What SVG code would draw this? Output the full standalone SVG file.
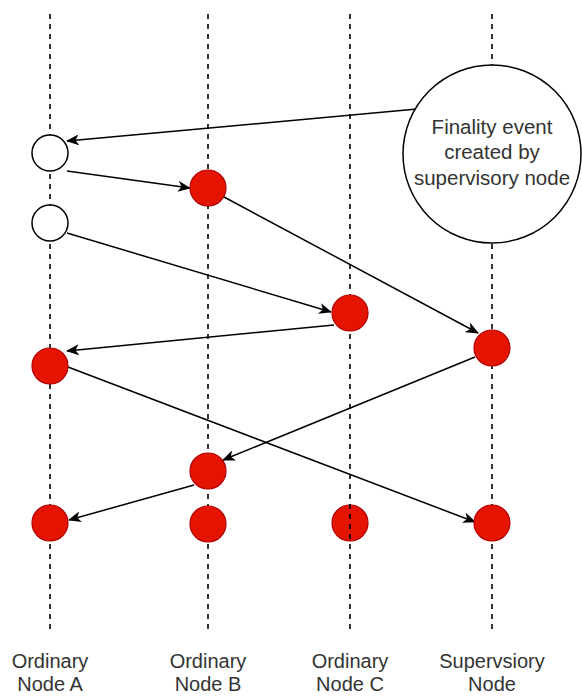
<svg xmlns="http://www.w3.org/2000/svg" width="582" height="697" viewBox="0 0 582 697">
  <style>
    .life { stroke: #000; stroke-width: 1.6; stroke-dasharray: 5 5; fill: none; }
    .edge { stroke: #000; stroke-width: 1.5; fill: none; marker-end: url(#arrow); }
    .evt { fill: #e51400; stroke: #b20000; stroke-width: 1.2; }
    .empty { fill: #fff; stroke: #000; stroke-width: 1.5; }
    .lbl { font-family: "Liberation Sans", Arial, sans-serif; font-size: 20px; fill: #333; text-anchor: middle; }
    .note { font-family: "Liberation Sans", Arial, sans-serif; font-size: 20.5px; fill: #333; text-anchor: middle; }
  </style>
  <defs>
    <marker id="arrow" viewBox="0 0 13 11" refX="12" refY="5.5" markerWidth="13" markerHeight="11" markerUnits="userSpaceOnUse" orient="auto">
      <path d="M0,0 L13,5.5 L0,11 L3.5,5.5 Z" fill="#000"/>
    </marker>
  </defs>

  <rect width="582" height="697" fill="#fff"/>

  <!-- lifelines -->
  <g id="lifelines">
    <line class="life" x1="50" y1="14" x2="50" y2="632"/>
    <line class="life" x1="208" y1="14" x2="208" y2="632"/>
    <line class="life" x1="350" y1="14" x2="350" y2="632"/>
    <line class="life" x1="492" y1="14" x2="492" y2="632"/>
  </g>

  <!-- messages -->
  <g id="connectors">
    <line class="edge" x1="417" y1="109" x2="67" y2="141"/>
    <line class="edge" x1="67" y1="171" x2="190" y2="188"/>
    <line class="edge" x1="224" y1="197" x2="478" y2="333"/>
    <line class="edge" x1="67" y1="233" x2="331" y2="312"/>
    <line class="edge" x1="334" y1="325" x2="67" y2="351"/>
    <line class="edge" x1="475" y1="357" x2="223" y2="460"/>
    <line class="edge" x1="68" y1="367" x2="475" y2="522"/>
    <line class="edge" x1="194" y1="485" x2="69" y2="520"/>
  </g>

  <!-- Node A -->
  <g id="node-a">
    <circle class="empty" cx="50" cy="153" r="18"/>
    <circle class="empty" cx="50" cy="223" r="18"/>
    <circle class="evt" cx="50" cy="366" r="18"/>
    <circle class="evt" cx="50" cy="523" r="18"/>
    <text class="lbl" x="50" y="668">Ordinary</text>
    <text class="lbl" x="50" y="691">Node A</text>
  </g>

  <!-- Node B -->
  <g id="node-b">
    <circle class="evt" cx="208" cy="188" r="18"/>
    <circle class="evt" cx="208" cy="471" r="18"/>
    <circle class="evt" cx="208" cy="524" r="18"/>
    <text class="lbl" x="208" y="668">Ordinary</text>
    <text class="lbl" x="208" y="691">Node B</text>
  </g>

  <!-- Node C -->
  <g id="node-c">
    <circle class="evt" cx="350" cy="313" r="18"/>
    <circle class="evt" cx="350" cy="523" r="18"/>
    <line class="life" x1="350" y1="504" x2="350" y2="542"/>
    <text class="lbl" x="350" y="668">Ordinary</text>
    <text class="lbl" x="350" y="691">Node C</text>
  </g>

  <!-- Supervisory node -->
  <g id="node-s">
    <circle class="evt" cx="492" cy="348" r="18"/>
    <circle class="evt" cx="492" cy="523" r="18"/>
    <text class="lbl" x="492" y="668">Supervsiory</text>
    <text class="lbl" x="492" y="691">Node</text>
  </g>

  <!-- finality event -->
  <g id="finality">
    <circle class="empty" cx="492" cy="154" r="89"/>
    <text class="note" x="492" y="134">Finality event</text>
    <text class="note" x="492" y="159">created by</text>
    <text class="note" x="492" y="185">supervisory node</text>
  </g>
</svg>
